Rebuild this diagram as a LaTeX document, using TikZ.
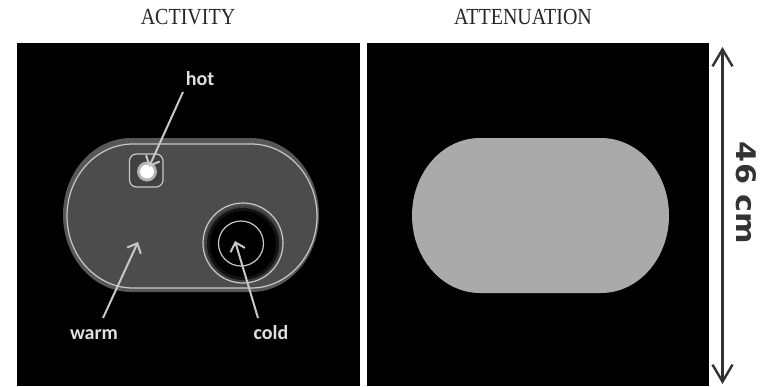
\documentclass[tikz,border=0pt]{standalone}
\usepackage{fontspec}
\setmainfont{Liberation Serif}
\newfontfamily\lblfont{Carlito}
\newfontfamily\dimfont{DejaVu Sans}
\usetikzlibrary{arrows.meta}
\definecolor{bandgray}{HTML}{575757}
\definecolor{regiongray}{HTML}{4C4C4C}
\definecolor{contourgray}{HTML}{C8C8C8}
\definecolor{attgray}{HTML}{AAAAAA}
\definecolor{dimgray}{HTML}{333333}
\newcommand{\stadpath}[5]{(#1,#3) -- (#2,#3) arc[start angle=-90,end angle=90,x radius=#5,y radius={(#4-#3)/2}] -- (#1,#4) arc[start angle=90,end angle=270,x radius=#5,y radius={(#4-#3)/2}] -- cycle}
\tikzset{
  panel/.style={fill=black,draw=none},
  titletext/.style={font=\fontsize{20}{22}\selectfont, text=black!85, inner sep=0pt, anchor=base, yscale=1.15},
  lbl/.style={font=\lblfont\bfseries\fontsize{20}{22}\selectfont, text=white!88!black, inner sep=0pt, anchor=base},
  contour/.style={draw=contourgray, line width=1.2pt},
  pointer/.style={draw=white!78!black, line width=2pt, -{Straight Barb[length=8pt,width=15pt,line width=2pt]}},
  dimarrow/.style={draw=dimgray, line width=2.4pt, {Straight Barb[length=17pt,width=20pt,line width=2.4pt]}-{Straight Barb[length=17pt,width=20pt,line width=2.4pt]}}
}
\begin{document}
\begin{tikzpicture}[x=1pt,y=-1pt]
\useasboundingbox[fill=white] (0,0) rectangle (773,386);
% titles
\node[titletext] (tact) at (188,24) {ACTIVITY};
\node[titletext] (tatt) at (523,24) {ATTENUATION};
% panels
\fill[panel] (17,43) rectangle (360,386);
\fill[panel] (367,43) rectangle (709,386);
% activity phantom
\fill[bandgray] \stadpath{131}{251}{138}{292}{68};
\fill[regiongray] \stadpath{133}{251}{144}{288}{66};
\draw[contour] \stadpath{133}{251}{144}{288}{66};
% cold sphere
\fill[regiongray!80!black] (243,244) circle[radius=38];
\fill[black!75!regiongray] (243,244) circle[radius=36];
\fill[black] (243,244) circle[radius=33];
\draw[contour] (243,243) circle[radius=40];
\draw[contour] (241,243.5) circle[radius=22.5];
% hot sphere
\fill[regiongray!85!black, rounded corners=7pt] (129.5,154) rectangle (163,187);
\draw[contour, rounded corners=7pt] (129.5,154) rectangle (163,187);
\fill[white!70!black] (147,171.5) circle[radius=10];
\fill[white] (147,171.5) circle[radius=7];
% labels and pointers
\node[lbl] (hot) at (200,85) {hot};
\node[lbl] (warm) at (94,339) {warm};
\node[lbl] (cold) at (271,339) {cold};
\coordinate (hotfrom) at (183,92);
\coordinate (hotto) at (149,167);
\coordinate (warmfrom) at (103,318);
\coordinate (warmto) at (138,242);
\coordinate (coldfrom) at (258,318);
\coordinate (coldto) at (235,241);
\draw[pointer] (hotfrom) -- (hotto);
\draw[pointer] (warmfrom) -- (warmto);
\draw[pointer] (coldfrom) -- (coldto);
% attenuation phantom
\fill[attgray] \stadpath{480}{601}{138}{293}{68};
% dimension
\coordinate (dimtop) at (722.5,47);
\coordinate (dimbot) at (722.5,384);
\draw[dimarrow] (dimtop) -- (dimbot);
\node[font=\dimfont\bfseries\fontsize{27}{30}\selectfont, text=dimgray, rotate=-90, inner sep=0pt, xscale=1.12] (dimlbl) at (746,193) {46 cm};
\end{tikzpicture}
\end{document}
